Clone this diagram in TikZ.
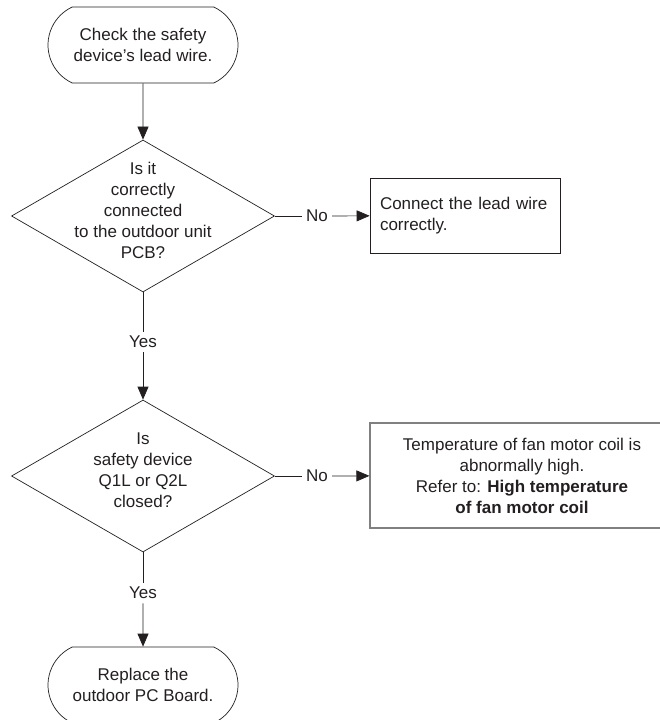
\documentclass[tikz,border=0pt]{standalone}
\usepackage{fontspec}
\setmainfont{Liberation Sans}
\usetikzlibrary{shapes.geometric,shapes.misc,arrows.meta}

\definecolor{ink}{RGB}{35,31,32}

\tikzset{
  term/.style={draw, rounded rectangle, rounded rectangle arc length=130,
    minimum width=190pt, minimum height=76pt, inner sep=0pt, align=center},
  decision/.style={draw, diamond, minimum width=263pt, minimum height=152pt, inner sep=0pt},
  txt/.style={align=center, inner sep=0pt},
  action/.style={draw, rectangle, inner sep=0pt},
  lbl/.style={inner sep=4pt},
  flow/.style={-{Triangle[length=13pt,width=11pt]}},
}

\begin{document}
\begin{tikzpicture}[x=1pt, y=1pt, line width=0.7pt, draw=ink, text=ink,
    font=\fontsize{17}{21}\selectfont]

    \useasboundingbox (0,0) rectangle (660,-720);

    % Start
    \node[term] (start) at (143,-45) {Check the safety\\device's lead wire.};

    % First check: lead wire
    \node[decision] (q1) at (143,-216) {};
    \node[txt] (q1txt) at (143,-210) {Is it\\correctly\\connected\\to the outdoor unit\\PCB?};
    \node[action, text width=170pt, inner sep=10pt, minimum height=75pt, align=left]
        (fix1) at (465,-215.5) {Connect the lead wire\\correctly.};

    % Second check: safety device
    \node[decision] (q2) at (143,-476) {};
    \node[txt] (q2txt) at (143,-470.5) {Is\\safety device\\Q1L or Q2L\\closed?};
    \node[action, draw=gray, line width=1.2pt, minimum width=304pt, minimum height=105pt,
        align=center] (fix2) at (522,-475.5)
        {Temperature of fan motor coil is\\abnormally high.\\Refer to: \textbf{High temperature}\\\textbf{of fan motor coil}};

    % End
    \node[term] (stop) at (143,-685) {Replace the\\outdoor PC Board.};

    % Answer labels
    \node[lbl] (no1)  at (317,-216) {No};
    \node[lbl] (no2)  at (317,-476) {No};
    \node[lbl] (yes1) at (143,-342) {Yes};
    \node[lbl] (yes2) at (143,-593) {Yes};

    % Connectors
    \draw[flow] (start) -- (q1);
    \draw (q1) -- (no1);
    \draw[flow] (no1) -- (fix1);
    \draw (q1) -- (yes1);
    \draw[flow] (yes1) -- (q2);
    \draw (q2) -- (no2);
    \draw[flow] (no2) -- (fix2);
    \draw (q2) -- (yes2);
    \draw[flow] (yes2) -- (stop);

\end{tikzpicture}
\end{document}
